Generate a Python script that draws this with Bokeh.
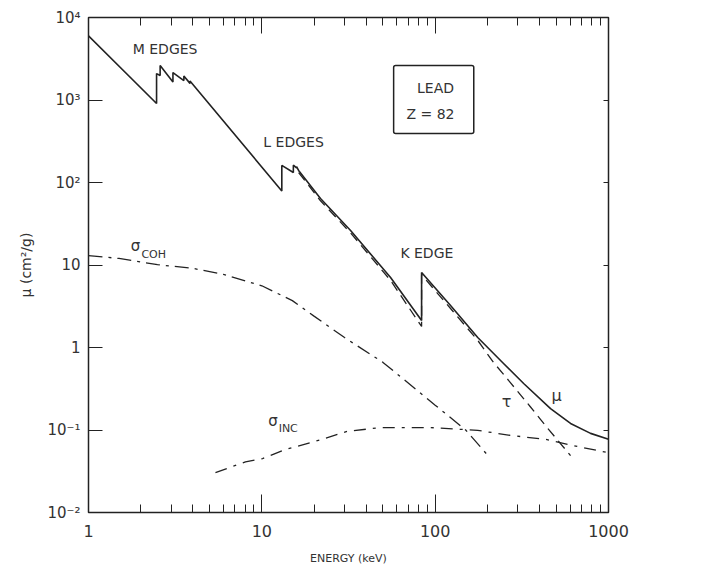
from bokeh.plotting import figure
from bokeh.models import (ColumnDataSource, Range1d, LogAxis, FixedTicker,
                          CustomJSTickFormatter, Label, BoxAnnotation)
from bokeh.embed import file_html
from bokeh.resources import INLINE

# ---------------- data ----------------
# total attenuation coefficient mu (cm^2/g) vs photon energy (keV), lead
mu_energy = [1.0, 2.47, 2.47, 2.59, 2.59, 3.07, 3.07, 3.55, 3.55, 3.85, 3.85,
             13.04, 13.04, 15.2, 15.2, 15.86, 15.86, 16.3, 21.8, 32.5, 55.3,
             83.5, 83.5, 123, 176, 248, 324, 463, 604, 788, 1000]
mu_value = [6000, 908, 2090, 1980, 2620, 1650, 2150, 1720, 1950, 1590, 1700,
            79, 161, 132, 162, 150, 156, 140, 64, 26.2, 7.05,
            2.12, 8.1, 3.2, 1.32, 0.64, 0.366, 0.182, 0.12, 0.091, 0.077]

# photoelectric tau
tau_energy = [16.3, 21.8, 32.5, 55.3, 83.5, 83.5, 123, 176, 217, 265, 355, 433, 604]
tau_value = [132, 60, 24.5, 6.5, 1.8, 7.6, 2.95, 1.22, 0.66, 0.40, 0.19, 0.113, 0.049]

# coherent scattering sigma_COH
coh_energy = [1.0, 1.5, 2.5, 4, 6, 10, 15, 20, 30, 50, 100, 150, 200]
coh_value = [13, 12, 10.1, 9.1, 7.7, 5.6, 3.7, 2.4, 1.32, 0.66, 0.2, 0.1, 0.05]

# incoherent scattering sigma_INC
inc_energy = [5.4, 8.05, 10.1, 13.7, 20.4, 31, 48, 94, 176, 272, 433, 663, 1000]
inc_value = [0.0305, 0.041, 0.045, 0.058, 0.073, 0.096, 0.107, 0.107, 0.099,
             0.086, 0.077, 0.063, 0.053]

# axes
x_ticks = [1, 10, 100, 1000]
x_minor_ticks = [2, 3, 4, 5, 6, 7, 8, 9, 20, 30, 40, 50, 60, 70, 80, 90,
                 200, 300, 400, 500, 600, 700, 800, 900]
x_tick_labels = ["1", "10", "100", "1000"]
y_ticks = [0.01, 0.1, 1, 10, 100, 1000, 10000]
y_tick_labels = ["10\u207b\u00b2", "10\u207b\u00b9", "1", "10",
                 "10\u00b2", "10\u00b3", "10\u2074"]

INK = "#222222"
TXT = "#333333"
FONT = "DejaVu Sans"

p = figure(x_axis_type="log", y_axis_type="log",
           x_range=Range1d(1, 1000), y_range=Range1d(0.01, 10000),
           frame_width=520, frame_height=495,
           min_border_left=88, min_border_top=17, min_border_right=86,
           min_border_bottom=40,
           output_backend="svg", toolbar_location=None)
p.xgrid.visible = False
p.ygrid.visible = False
p.outline_line_color = INK
p.outline_line_width = 1.5
p.background_fill_color = "white"
p.border_fill_color = "white"

xfmt = CustomJSTickFormatter(args=dict(labels=x_tick_labels),
                             code="return labels[Math.round(Math.log10(tick))];")
yfmt = CustomJSTickFormatter(args=dict(labels=y_tick_labels),
                             code="return labels[Math.round(Math.log10(tick)) + 2];")
blank = CustomJSTickFormatter(code="return '';")

# bottom axis
xa = p.xaxis[0]
xa.ticker = FixedTicker(ticks=x_ticks, minor_ticks=x_minor_ticks)
xa.formatter = xfmt
xa.major_tick_in = 18
xa.major_tick_out = 0
xa.minor_tick_in = 8
xa.minor_tick_out = 0
xa.axis_line_color = INK
xa.major_tick_line_color = INK
xa.minor_tick_line_color = INK
xa.major_label_standoff = 12
xa.major_label_text_font = FONT
xa.major_label_text_font_size = "16px"
xa.major_label_text_color = TXT
xa.axis_label = "ENERGY (keV)"
xa.axis_label_text_font = FONT
xa.axis_label_text_font_size = "11px"
xa.axis_label_text_font_style = "normal"
xa.axis_label_text_color = TXT
xa.axis_label_standoff = 12

# left axis
ya = p.yaxis[0]
ya.ticker = FixedTicker(ticks=y_ticks, minor_ticks=[])
ya.formatter = yfmt
ya.major_tick_in = 14
ya.major_tick_out = 0
ya.axis_line_color = INK
ya.major_tick_line_color = INK
ya.major_label_standoff = 8
ya.major_label_text_font = FONT
ya.major_label_text_font_size = "15px"
ya.major_label_text_color = TXT
ya.axis_label = "\u03bc (cm\u00b2/g)"
ya.axis_label_text_font = FONT
ya.axis_label_text_font_size = "14px"
ya.axis_label_text_font_style = "normal"
ya.axis_label_text_color = TXT
ya.axis_label_standoff = 10

# top axis
ta = LogAxis(ticker=FixedTicker(ticks=x_ticks, minor_ticks=x_minor_ticks),
             formatter=blank, major_tick_in=16, major_tick_out=0,
             minor_tick_in=8, minor_tick_out=0, axis_line_color=INK,
             major_tick_line_color=INK, minor_tick_line_color=INK,
             major_label_standoff=0, major_label_text_font_size="1px")
p.add_layout(ta, "above")

# right axis
ra = LogAxis(ticker=FixedTicker(ticks=y_ticks, minor_ticks=[]),
             formatter=blank, major_tick_in=5, major_tick_out=0,
             minor_tick_in=0, minor_tick_out=0, axis_line_color=INK,
             major_tick_line_color=INK,
             major_label_standoff=0, major_label_text_font_size="1px")
p.add_layout(ra, "right")

# curves
p.line("x", "y", source=ColumnDataSource(dict(x=coh_energy, y=coh_value)),
       line_color=INK, line_width=1.3, line_dash="14 6 3 6")
p.line("x", "y", source=ColumnDataSource(dict(x=inc_energy, y=inc_value)),
       line_color=INK, line_width=1.3, line_dash="12 7 3 7")
p.line("x", "y", source=ColumnDataSource(dict(x=tau_energy, y=tau_value)),
       line_color=INK, line_width=1.3, line_dash="10 6")
p.line("x", "y", source=ColumnDataSource(dict(x=mu_energy, y=mu_value)),
       line_color=INK, line_width=1.6)

# annotations
def lab(x, y, text, size="14px", align="left", baseline="middle"):
    p.add_layout(Label(x=x, y=y, text=text, text_font=FONT,
                       text_font_size=size, text_color=TXT,
                       text_align=align, text_baseline=baseline))

lab(1.8, 4200, "M EDGES")
lab(10.2, 314, "L EDGES")
lab(63, 13.8, "K EDGE")
lab(100.5, 1380, "LEAD", align="center")
lab(94, 686, "Z = 82", align="center")
lab(1.75, 16.8, "\u03c3", size="15px")
lab(2.02, 13.4, "COH", size="11px")
lab(10.9, 0.127, "\u03c3", size="15px")
lab(12.5, 0.104, "INC", size="11px")
lab(258, 0.221, "\u03c4", size="16px", align="center")
lab(502, 0.262, "\u03bc", size="16px", align="center")

p.add_layout(BoxAnnotation(left=57.6, right=167, bottom=393, top=2620,
                           fill_alpha=0, line_color=INK, line_alpha=1.0,
                           line_width=1.5, border_radius=2))

open("out.html", "w").write(file_html(p, INLINE))
